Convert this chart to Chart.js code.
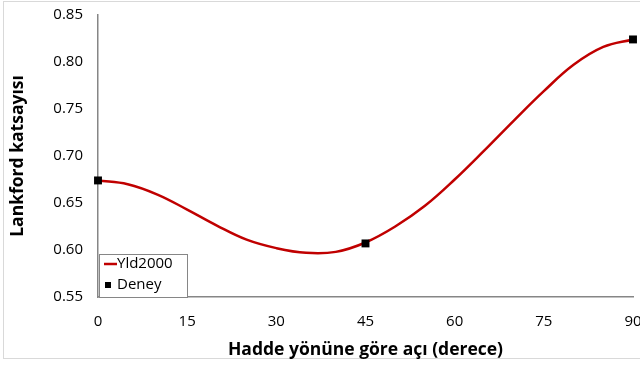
<!DOCTYPE html>
<html>
<head>
<meta charset="utf-8">
<script src="https://cdn.jsdelivr.net/npm/chart.js@4/dist/chart.umd.min.js"></script>
<style>
    html, body { margin: 0; padding: 0; background: #fff; }
    #wrap { position: relative; width: 640px; height: 369px; }
    #frame { position: absolute; left: 3px; top: 1px; width: 640px; height: 358px; border: 1px solid #d9d9d9; box-sizing: border-box; }
    canvas { position: absolute; left: 0; top: 0; }
</style>
</head>
<body>
<div id="wrap">
    <div id="frame"></div>
    <canvas id="lankfordChart" width="640" height="369"></canvas>
</div>
<script>
const angles = [0, 5, 10, 15, 20, 25, 30, 35, 40, 45, 50, 55, 60, 65, 70, 75, 80, 85, 90];
const yld2000 = [0.674, 0.670, 0.659, 0.643, 0.626, 0.611, 0.602, 0.597, 0.598, 0.608, 0.625, 0.647, 0.675, 0.706, 0.738, 0.769, 0.797, 0.816, 0.824];
const deneyAngles = [0, 45, 90];
const deney = [0.674, 0.607, 0.824];

const fontFamily = "'Open Sans', sans-serif";

// legend box drawn inside the plot, bottom-left corner
const innerLegend = {
    id: 'innerLegend',
    afterDraw(chart) {
        const ctx = chart.ctx;
        const area = chart.chartArea;
        const x = area.left + 1, y = area.bottom - 43, w = 88, h = 43;
        ctx.save();
        ctx.fillStyle = '#fff';
        ctx.fillRect(x, y, w, h);
        ctx.strokeStyle = '#868686';
        ctx.lineWidth = 1;
        ctx.strokeRect(x + 0.5, y + 0.5, w, h);
        ctx.font = '15px ' + fontFamily;
        ctx.textBaseline = 'middle';
        ctx.fillStyle = '#000';
        const ds = chart.data.datasets;
        // Yld2000 row
        ctx.strokeStyle = ds[0].borderColor;
        ctx.lineWidth = 2.5;
        ctx.beginPath();
        ctx.moveTo(x + 5, y + 10);
        ctx.lineTo(x + 18, y + 10);
        ctx.stroke();
        ctx.fillText(ds[0].label, x + 18, y + 10);
        // Deney row
        ctx.fillRect(x + 6, y + 28, 6, 6);
        ctx.fillText(ds[1].label, x + 18, y + 31);
        ctx.restore();
    }
};

const chart = new Chart(
    document.getElementById('lankfordChart'),
    {
        type: 'scatter',
        data: {
            datasets: [
                {
                    label: 'Yld2000',
                    data: angles.map((a, i) => ({ x: a, y: yld2000[i] })),
                    showLine: true,
                    borderColor: '#c00000',
                    borderWidth: 2.5,
                    pointRadius: 0,
                    tension: 0.4,
                    clip: false,
                    order: 2
                },
                {
                    label: 'Deney',
                    data: deneyAngles.map((a, i) => ({ x: a, y: deney[i] })),
                    showLine: false,
                    pointStyle: 'rect',
                    pointRadius: 5.6,
                    backgroundColor: '#000',
                    borderColor: '#000',
                    borderWidth: 0,
                    clip: false,
                    order: 1
                }
            ]
        },
        options: {
            responsive: false,
            animation: false,
            layout: { padding: { left: 0, right: 7, top: 15, bottom: 0 } },
            plugins: {
                legend: { display: false },
                tooltip: { enabled: false }
            },
            scales: {
                x: {
                    type: 'linear',
                    min: 0,
                    max: 90,
                    grid: { display: false, drawTicks: false },
                    border: { display: true, color: '#868686', width: 1.5 },
                    ticks: {
                        stepSize: 15,
                        padding: 16,
                        color: '#000',
                        font: { family: fontFamily, size: 15 }
                    },
                    title: {
                        display: true,
                        text: 'Hadde yönüne göre açı (derece)',
                        color: '#000',
                        font: { family: fontFamily, size: 17.5, weight: 'bold' },
                        padding: { top: 0, bottom: 8 }
                    },
                    afterFit(scale) {
                        scale.height = 72;
                        scale.paddingLeft = 0;
                        scale.paddingRight = 0;
                    }
                },
                y: {
                    min: 0.55,
                    max: 0.85,
                    grid: { display: false, drawTicks: false },
                    border: { display: true, color: '#868686', width: 1.5 },
                    ticks: {
                        stepSize: 0.05,
                        padding: 15,
                        color: '#000',
                        font: { family: fontFamily, size: 15 },
                        callback: v => v.toFixed(2)
                    },
                    title: {
                        display: true,
                        text: 'Lankford katsayısı',
                        color: '#000',
                        font: { family: fontFamily, size: 17.5, weight: 'bold' },
                        padding: { top: 8, bottom: 0 }
                    },
                    afterFit(scale) {
                        scale.width = 98;
                        scale.paddingTop = 0;
                        scale.paddingBottom = 0;
                    }
                }
            }
        },
        plugins: [innerLegend]
    }
);
</script>
</body>
</html>
